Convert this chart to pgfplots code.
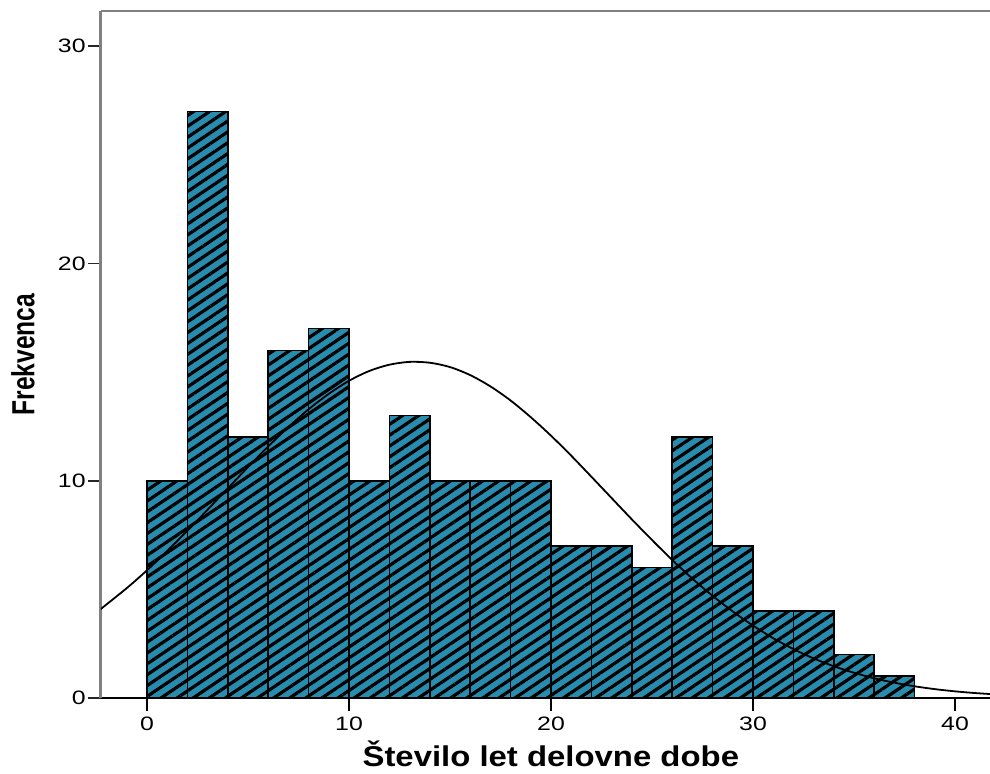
\documentclass[border=0pt]{standalone}
\usepackage{pgfplots}
\pgfplotsset{compat=1.18}
\usepackage{fontspec}
\usetikzlibrary{patterns.meta}
\setmainfont{Liberation Sans}
\newfontfamily\tickfont[FakeStretch=1.28]{Liberation Sans}
\newfontfamily\xlabfont[FakeStretch=1.15]{Liberation Sans}

\definecolor{barfill}{RGB}{40,140,175}
\definecolor{framegray}{RGB}{128,128,128}

\begin{document}
\begin{tikzpicture}
\begin{axis}[
  scale only axis,
  width=444.5pt, height=343.5pt,
  xmin=-2.28, xmax=41.73, ymin=0, ymax=31.62,
  axis x line*=bottom, axis y line*=left,
  x axis line style={-, black, line width=0.8pt},
  y axis line style={-, framegray, line width=1.5pt},
  xtick={0,10,20,30,40}, ytick={0,10,20,30},
  tick align=outside,
  major tick length=6.5pt,
  x tick style={black, line width=0.8pt},
  y tick style={black!85, line width=0.8pt},
  /pgf/number format/assume math mode=true,
  ticklabel style={font=\tickfont\fontsize{9.7}{11}\selectfont},
  yticklabel style={inner xsep=1pt},
  xticklabel style={inner ysep=3pt},
  xlabel={\xlabfont\bfseries\fontsize{14.3}{16}\selectfont Število let delovne dobe},
  xlabel style={at={(axis description cs:0.506,0)}, anchor=base, yshift=-34.5pt},
  ylabel={\bfseries\fontsize{12.3}{14}\selectfont\scalebox{1}[1.3]{Frekvenca}},
  ylabel style={at={(axis description cs:-0.0877,0.5)}, anchor=center},
]
% histogram, bins of width 2 years
\addplot[ybar interval, draw=black, line width=0.8pt, fill=barfill,
  postaction={pattern={Lines[angle=34, distance=4.5pt, line width=1.6pt]}, pattern color=black}]
  coordinates {
  (0,10) (2,27) (4,12) (6,16) (8,17) (10,10) (12,13) (14,10) (16,10) (18,10)
  (20,7) (22,7) (24,6) (26,12) (28,7) (30,4) (32,4) (34,2) (36,1) (38,1)
  };
% fitted normal curve
\addplot[black, line width=0.9pt, smooth, no markers] coordinates {
  (-2.3,4.09) (-1,5.06) (0,5.88) (1,6.77) (2,7.70) (3,8.67) (4,9.65) (5,10.63)
  (6,11.58) (7,12.47) (8,13.29) (9,14.00) (10,14.60) (11,15.05) (12,15.34)
  (13,15.47) (14,15.43) (15,15.23) (16,14.86) (17,14.34) (18,13.69) (19,12.92)
  (20,12.07) (21,11.15) (22,10.18) (23,9.20) (24,8.22) (25,7.27) (26,6.35)
  (27,5.49) (28,4.70) (29,3.98) (30,3.33) (31,2.75) (32,2.25) (33,1.82)
  (34,1.46) (35,1.16) (36,0.906) (37,0.702) (38,0.537) (39,0.407) (40,0.305)
  (41,0.226) (42,0.166)
};
\draw[framegray, line width=1.5pt] (rel axis cs:0,1) -- (rel axis cs:1,1);
\coordinate (bl) at (rel axis cs:0,0);
\coordinate (tr) at (rel axis cs:1,1);
\end{axis}
\path (bl) ++(-50.5pt,-38pt) coordinate (p1);
\path (tr) ++(0,5.5pt) coordinate (p2);
\pgfresetboundingbox
\useasboundingbox (p1) rectangle (p2);
\end{tikzpicture}
\end{document}
